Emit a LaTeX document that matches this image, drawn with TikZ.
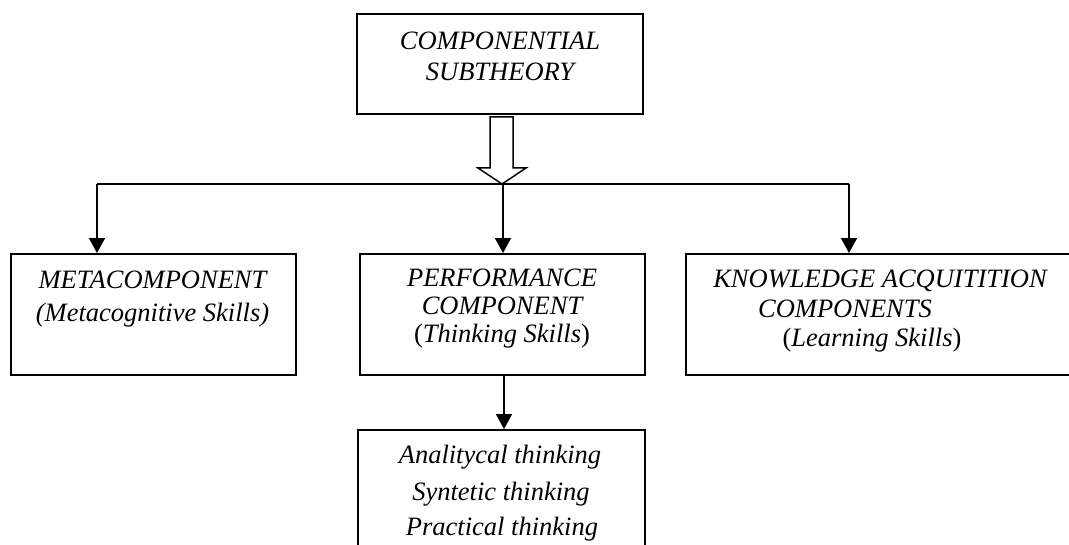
\documentclass[tikz,border=0pt]{standalone}
\usepackage{fontspec}
\setmainfont{Liberation Serif}
\usetikzlibrary{arrows.meta}
\begin{document}
\begin{tikzpicture}[x=1pt,y=-1pt,
  box/.style={draw, line width=1.9pt, inner sep=0pt, rectangle},
  txt/.style={anchor=base, inner sep=0pt, font=\itshape\fontsize{26.5}{30}\selectfont},
  link/.style={line width=1.8pt, -{Triangle[width=16pt,length=15pt]}},
  bus/.style={line width=1.5pt}]
\useasboundingbox (0,0) rectangle (1069,545);

% boxes
\node[box, minimum width=286pt, minimum height=100pt] (theory) at (500,64) {};
\node[box, minimum width=285pt, minimum height=121pt] (meta) at (153.5,314.5) {};
\node[box, minimum width=285pt, minimum height=121pt] (perf) at (502.5,314.5) {};
\node[box, minimum width=388pt, minimum height=121pt] (know) at (880,314.5) {};
\node[box, minimum width=287pt, minimum height=130pt] (think) at (501.5,495) {};

% box texts
\node[txt] (t1) at (500,50) {COMPONENTIAL};
\node[txt] (t2) at (500,81) {SUBTHEORY};

\node[txt] (m1) at (152.5,289) {METACOMPONENT};
\node[txt] (m2) at (152.5,322) {(Metacognitive Skills)};

\node[txt] (p1) at (502,287) {PERFORMANCE};
\node[txt] (p2) at (502,315) {COMPONENT};
\node[txt] (p3) at (502,343) {\upshape(\itshape Thinking Skills\upshape)};

\node[txt] (k1) at (880,288) {KNOWLEDGE ACQUITITION};
\node[txt] (k2) at (845,318) {COMPONENTS};
\node[txt] (k3) at (872,347) {\upshape(\itshape Learning Skills\upshape)};

\node[txt] (a1) at (500,463) {Analitycal thinking};
\node[txt] (a2) at (501,500) {Syntetic thinking};
\node[txt] (a3) at (502,535) {Practical thinking};

% hollow block arrow below the top box
\draw[line width=1.5pt, fill=white]
  (490,117) -- (513,117) -- (513,168) -- (526,168) -- (502,184)
  -- (478,168) -- (490,168) -- cycle;

% distribution line and drops
\coordinate (busL) at (97,184);
\coordinate (busM) at (503,184);
\coordinate (busR) at (849,184);
\draw[bus] (busL) -- (busR);
\draw[link] (busL) -- (busL |- meta.north);
\draw[link] (busM) -- (busM |- perf.north);
\draw[link] (busR) -- (busR |- know.north);
\coordinate (drop) at (504,375);
\draw[link] (drop) -- (drop |- think.north);
\end{tikzpicture}
\end{document}
